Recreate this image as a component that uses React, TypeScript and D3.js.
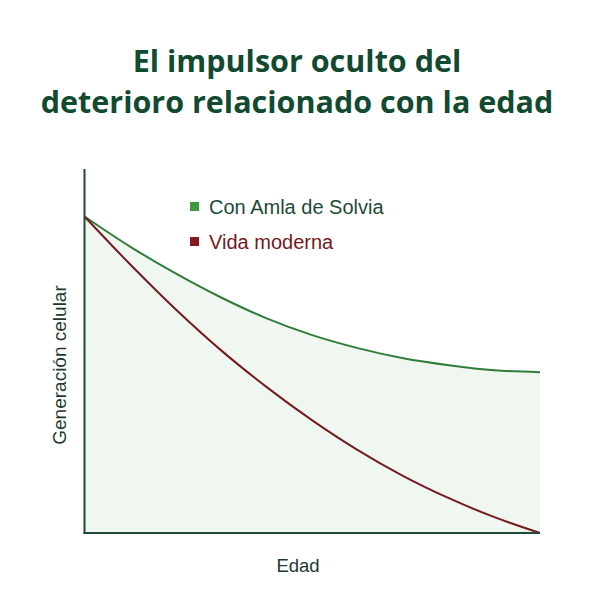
import React from "react";
import * as d3 from "d3";

const titleLines = ["El impulsor oculto del", "deterioro relacionado con la edad"];
const ages = [0, 1, 2, 3, 4, 5, 6, 7, 8, 9, 10];
const amlaValues = [100, 90.5, 82.0, 74.4, 67.8, 62.5, 58.4, 55.2, 53.0, 51.4, 50.8];
const modernValues = [100, 84.9, 70.7, 57.7, 46.1, 35.6, 26.2, 18.0, 11.0, 5.0, 0];
const seriesNames = ["Con Amla de Solvia", "Vida moderna"];
const xLabel = "Edad";
const yLabel = "Generación celular";

const W = 600;
const H = 600;

export default function App() {
  const x = d3.scaleLinear().domain([0, 10]).range([84.5, 540]);
  const y = d3.scaleLinear().domain([0, 115]).range([533, 169]);

  const amla = ages.map((a, i) => [a, amlaValues[i]] as [number, number]);
  const modern = ages.map((a, i) => [a, modernValues[i]] as [number, number]);

  const line = d3
    .line<[number, number]>()
    .x((d) => x(d[0]))
    .y((d) => y(d[1]))
    .curve(d3.curveMonotoneX);
  const area = d3
    .area<[number, number]>()
    .x((d) => x(d[0]))
    .y0(y(0))
    .y1((d) => y(d[1]))
    .curve(d3.curveMonotoneX);

  const axisColor = "#1f4a3a";
  const [x0, x1] = x.range();
  const [yb, yt] = y.range();

  return (
    <svg
      width={W}
      height={H}
      viewBox={`0 0 ${W} ${H}`}
      style={{ position: "absolute", left: 0, top: 0, background: "#ffffff" }}
    >
      <rect x={0} y={0} width={W} height={H} fill="#ffffff" />
      {titleLines.map((t, i) => (
        <text
          key={i}
          x={297}
          y={72 + i * 41}
          textAnchor="middle"
          fontFamily="'Open Sans', Roboto, sans-serif"
          fontWeight={700}
          fontSize={30.5}
          fill="#124a31"
        >
          {t}
        </text>
      ))}

      <path d={area(amla) || ""} fill="#f0f7f1" />
      <path d={line(amla) || ""} fill="none" stroke="#2f7d39" strokeWidth={2} />
      <path d={line(modern) || ""} fill="none" stroke="#741b1f" strokeWidth={2} />

      <line x1={x0} x2={x0} y1={yt} y2={yb + 1} stroke={axisColor} strokeWidth={2} />
      <line x1={x0 - 1} x2={x1} y1={yb} y2={yb} stroke={axisColor} strokeWidth={2} />

      <rect x={190} y={202} width={9} height={9} fill="#3a9a3e" />
      <text
        x={209}
        y={214}
        fontFamily="'Liberation Sans', Arial, sans-serif"
        fontSize={20}
        fill="#1d4a36"
      >
        {seriesNames[0]}
      </text>
      <rect x={190} y={237} width={9} height={9} fill="#85191d" />
      <text
        x={209}
        y={249}
        fontFamily="'Liberation Sans', Arial, sans-serif"
        fontSize={20}
        fill="#761a1e"
      >
        {seriesNames[1]}
      </text>

      <text
        x={298}
        y={572}
        textAnchor="middle"
        fontFamily="'Liberation Sans', Arial, sans-serif"
        fontSize={18.5}
        fill="#1c3a30"
      >
        {xLabel}
      </text>
      <text
        transform={`translate(66,365) rotate(-90)`}
        textAnchor="middle"
        fontFamily="'Liberation Sans', Arial, sans-serif"
        fontSize={19}
        fill="#1c3a30"
      >
        {yLabel}
      </text>
    </svg>
  );
}
